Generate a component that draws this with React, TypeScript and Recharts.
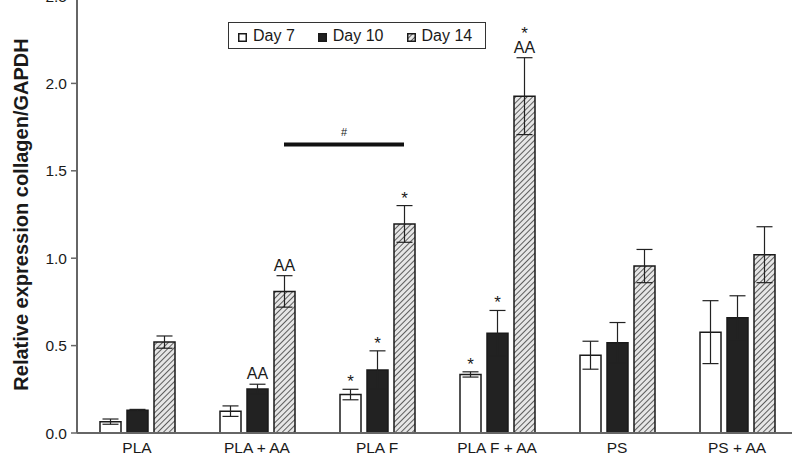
import { Bar, BarChart, ErrorBar, LabelList, Legend, ReferenceLine, XAxis, YAxis } from "recharts";

const groups = ["PLA", "PLA + AA", "PLA F", "PLA F + AA", "PS", "PS + AA"];
const seriesNames = ["Day 7", "Day 10", "Day 14"];

const day7 = [0.065, 0.125, 0.22, 0.335, 0.445, 0.577];
const day7Err = [0.015, 0.03, 0.03, 0.015, 0.08, 0.18];
const day10 = [0.13, 0.252, 0.36, 0.571, 0.517, 0.66];
const day10Err = [0.005, 0.027, 0.11, 0.13, 0.115, 0.125];
const day14 = [0.52, 0.81, 1.196, 1.927, 0.955, 1.02];
const day14Err = [0.035, 0.09, 0.105, 0.22, 0.095, 0.16];

// significance marks stacked above each error bar (bottom line last)
const day7Marks = [[], [], ["*"], ["*"], [], []];
const day10Marks = [[], ["AA"], ["*"], ["*"], [], []];
const day14Marks = [[], ["AA"], ["*"], ["*", "AA"], [], []];

const yTicks = [0, 0.5, 1, 1.5, 2, 2.5];
const bracketFrom = "PLA + AA";
const bracketTo = "PLA F";
const bracketY = 1.65;

const data = groups.map((g, i) => ({
  group: g,
  d7: day7[i],
  e7: day7Err[i],
  d10: day10[i],
  e10: day10Err[i],
  d14: day14[i],
  e14: day14Err[i],
}));

const FONT = "'Liberation Sans', Arial, sans-serif";
const BAR = 21;
const GAP = 6;

const marksLabel = (marks: string[][], errs: number[]) => (props: any) => {
  const { x, y, width, height, value, index } = props;
  const lines = marks[index];
  if (!lines || !lines.length || !value) return null;
  const top = y - (errs[index] * height) / value;
  const cx = x + width / 2;
  let base = top;
  const out = [];
  for (let k = lines.length - 1; k >= 0; k--) {
    const t = lines[k];
    base -= t === "*" ? 2 : 5;
    out.push(
      <text key={k} x={cx} y={base} textAnchor="middle" fontSize={t === "*" ? 17 : 16} fill="#1a1a1a">
        {t}
      </text>
    );
    base -= t === "*" ? 12 : 12;
  }
  return <g>{out}</g>;
};

const Swatch = ({ fill }: { fill: string }) => (
  <svg width={9} height={9} style={{ marginRight: 6, verticalAlign: "-1px" }}>
    <rect x={0.75} y={0.75} width={7.5} height={7.5} fill={fill} stroke="#1a1a1a" strokeWidth={1.5} />
  </svg>
);

const LegendBox = (props: any) => {
  const items = [...(props.payload || [])].sort(
    (a: any, b: any) => seriesNames.indexOf(a.value) - seriesNames.indexOf(b.value)
  );
  return (
    <div
      style={{
        border: "1px solid #333",
        height: 27,
        boxSizing: "border-box",
        display: "flex",
        alignItems: "center",
        paddingLeft: 9,
        fontSize: 16,
        color: "#1a1a1a",
        background: "#fff",
      }}
    >
      {items.map((it: any, i: number) => (
        <span key={i} style={{ marginRight: 23, whiteSpace: "nowrap" }}>
          <Swatch fill={it.payload?.fill ?? it.color} />
          {it.value}
        </span>
      ))}
    </div>
  );
};

const Bracket = (props: any) => {
  const { x1, y1, x2 } = props;
  if (x1 == null) return null;
  const a = x1 + BAR + GAP;
  const b = x2 + BAR + GAP;
  return (
    <g>
      <line x1={a} y1={y1} x2={b} y2={y1} stroke="#111" strokeWidth={4} />
      <text x={(a + b) / 2} y={y1 - 9} textAnchor="middle" fontSize={11} fill="#1a1a1a">
        #
      </text>
    </g>
  );
};

export default function App() {
  return (
    <div
      style={{
        position: "absolute",
        left: 0,
        top: 0,
        width: 792,
        height: 466,
        overflow: "hidden",
        background: "#fff",
        fontFamily: FONT,
      }}
    >
      <div style={{ marginTop: -16 }}>
        <BarChart
          width={800}
          height={482}
          data={data}
          margin={{ top: 12, right: 3, bottom: 3, left: 0 }}
          barSize={BAR}
          barGap={GAP}
        >
          <defs>
            <pattern id="hatch" width={4} height={4} patternUnits="userSpaceOnUse" patternTransform="rotate(45)">
              <rect width={4} height={4} fill="#e6e6e6" />
              <line x1={0} y1={0} x2={0} y2={4} stroke="#3a3a3a" strokeWidth={1.6} />
            </pattern>
          </defs>
          <XAxis
            dataKey="group"
            height={30}
            tickLine={false}
            axisLine={{ stroke: "#666", strokeWidth: 2 }}
            tick={{ fill: "#1a1a1a", fontSize: 15.5 }}
            tickMargin={3}
          />
          <YAxis
            width={77}
            domain={[0, 2.5]}
            ticks={yTicks}
            interval={0}
            tickFormatter={(v: number) => v.toFixed(1)}
            axisLine={{ stroke: "#666", strokeWidth: 2 }}
            tickLine={{ stroke: "#666", strokeWidth: 1.5 }}
            tickSize={6}
            tickMargin={4}
            tick={{ fill: "#1a1a1a", fontSize: 15.5 }}
            label={(p: any) => {
              const vb = p.viewBox || {};
              const cy = (vb.y ?? 12) + (vb.height ?? 437) / 2;
              return (
                <text
                  x={28}
                  y={cy}
                  transform={`rotate(-90 28 ${cy})`}
                  textAnchor="middle"
                  fontSize={20}
                  fontWeight="bold"
                  fill="#1a1a1a"
                >
                  Relative expression collagen/GAPDH
                </text>
              );
            }}
          />
          <Legend
            verticalAlign="middle"
            align="center"
            content={<LegendBox />}
            wrapperStyle={{ left: 228, top: 38, width: 258 }}
          />
          <ReferenceLine
            segment={[
              { x: bracketFrom, y: bracketY },
              { x: bracketTo, y: bracketY },
            ]}
            shape={<Bracket />}
          />
          <Bar dataKey="d7" name="Day 7" fill="#fff" stroke="#1a1a1a" strokeWidth={1.5} isAnimationActive={false}>
            <ErrorBar dataKey="e7" width={8} stroke="#222" strokeWidth={1.2} />
            <LabelList dataKey="d7" content={marksLabel(day7Marks, day7Err)} />
          </Bar>
          <Bar dataKey="d10" name="Day 10" fill="#222" stroke="#1a1a1a" strokeWidth={1.5} isAnimationActive={false}>
            <ErrorBar dataKey="e10" width={8} stroke="#222" strokeWidth={1.2} />
            <LabelList dataKey="d10" content={marksLabel(day10Marks, day10Err)} />
          </Bar>
          <Bar dataKey="d14" name="Day 14" fill="url(#hatch)" stroke="#1a1a1a" strokeWidth={1.5} isAnimationActive={false}>
            <ErrorBar dataKey="e14" width={8} stroke="#222" strokeWidth={1.2} />
            <LabelList dataKey="d14" content={marksLabel(day14Marks, day14Err)} />
          </Bar>
        </BarChart>
      </div>
    </div>
  );
}
